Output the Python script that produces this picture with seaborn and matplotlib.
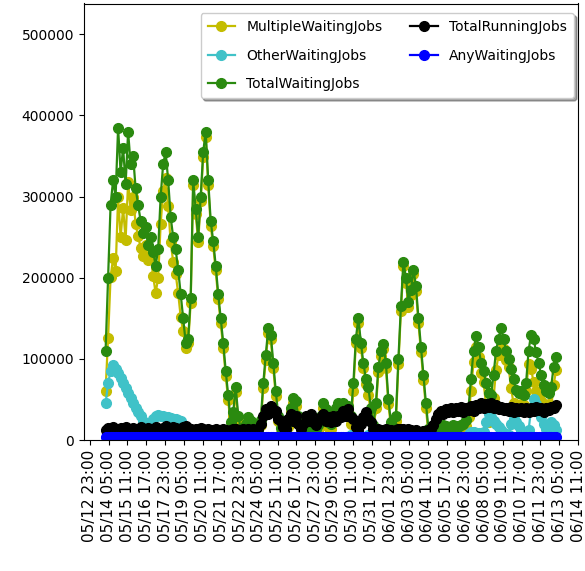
import numpy as np
import pandas as pd
import matplotlib
matplotlib.use("Agg")
import matplotlib.pyplot as plt
import seaborn as sns

# Job counts in thousands, sampled every 4 hours starting 05/14 00:00
sample_start = "2018-05-14 00:00"
sample_step = "4h"

multiple_waiting_k = [
    61, 126, 201, 224, 208, 299, 250, 286, 247, 318,
    284, 300, 266, 251, 237, 227, 240, 222, 228, 202,
    181, 200, 266, 307, 323, 288, 244, 220, 205, 181,
    152, 134, 113, 119, 169, 314, 279, 244, 294, 349,
    374, 314, 264, 239, 209, 174, 144, 114, 79, 49,
    16, 29, 59, 24, 8, 6, 14, 22, 18, 7,
    5, 6, 19, 64, 99, 132, 124, 89, 54, 24,
    9, 6, 8, 16, 34, 46, 42, 24, 9, 6,
    8, 12, 16, 10, 7, 12, 24, 39, 32, 16,
    14, 22, 34, 39, 36, 40, 34, 36, 20, 61,
    119, 144, 114, 89, 69, 55, 34, 12, 39, 84,
    104, 112, 89, 44, 16, 10, 24, 94, 159, 214,
    194, 164, 179, 204, 184, 144, 109, 74, 39, 8,
    6, 7, 6, 8, 10, 12, 11, 9, 10, 12,
    11, 10, 12, 14, 17, 28, 61, 96, 115, 102,
    83, 71, 44, 22, 23, 52, 86, 105, 122, 112,
    99, 90, 64, 45, 36, 37, 44, 43, 60, 94,
    88, 71, 60, 55, 48, 44, 42, 44, 39, 68,
    86,
]

other_waiting_k = [
    45, 70, 85, 92, 88, 82, 76, 70, 64, 58,
    52, 46, 40, 35, 29, 24, 18, 14, 18, 26,
    30, 31, 30, 29, 28, 28, 27, 26, 26, 25,
    24, 12, 3, 2, 2, 2, 2, 2, 2, 2,
    2, 2, 2, 2, 2, 2, 2, 2, 2, 2,
    2, 2, 2, 2, 2, 2, 2, 2, 2, 2,
    2, 2, 2, 2, 2, 2, 2, 2, 2, 2,
    2, 2, 2, 2, 2, 2, 2, 2, 2, 2,
    2, 2, 2, 2, 2, 2, 2, 2, 2, 2,
    2, 2, 2, 2, 2, 2, 2, 2, 6, 5,
    2, 2, 2, 2, 2, 6, 2, 2, 2, 2,
    2, 2, 2, 2, 2, 2, 2, 2, 2, 2,
    2, 2, 2, 2, 2, 2, 2, 2, 2, 2,
    2, 2, 2, 2, 2, 2, 2, 2, 2, 2,
    2, 2, 2, 2, 4, 8, 10, 10, 9, 9,
    8, 10, 22, 32, 28, 24, 20, 16, 12, 9,
    7, 6, 20, 26, 22, 17, 12, 8, 6, 12,
    38, 50, 44, 36, 28, 20, 14, 10, 22, 18,
    12,
]

total_waiting_k = [
    110, 200, 290, 320, 300, 385, 330, 360, 315, 380,
    340, 350, 310, 290, 270, 255, 262, 240, 250, 232,
    215, 235, 300, 340, 355, 320, 275, 250, 235, 210,
    180, 150, 120, 125, 175, 320, 285, 250, 300, 355,
    380, 320, 270, 245, 215, 180, 150, 120, 85, 55,
    22, 35, 65, 30, 14, 12, 20, 28, 24, 13,
    11, 12, 25, 70, 105, 138, 130, 95, 60, 30,
    15, 12, 14, 22, 40, 52, 48, 30, 15, 12,
    14, 18, 22, 16, 13, 18, 30, 45, 38, 22,
    20, 28, 40, 45, 42, 46, 40, 42, 30, 70,
    125, 150, 120, 95, 75, 65, 40, 18, 45, 90,
    110, 118, 95, 50, 22, 16, 30, 100, 165, 220,
    200, 170, 185, 210, 190, 150, 115, 80, 45, 14,
    12, 13, 12, 14, 16, 18, 17, 15, 16, 18,
    17, 16, 18, 20, 25, 40, 75, 110, 128, 115,
    95, 85, 70, 58, 55, 80, 110, 125, 138, 125,
    110, 100, 88, 75, 62, 58, 60, 55, 70, 110,
    130, 125, 108, 95, 80, 68, 60, 58, 65, 90,
    102,
]

total_running_k = [
    12, 15, 13, 16, 14, 12, 15, 13, 16, 14,
    13, 15, 12, 14, 16, 13, 12, 15, 14, 13,
    16, 14, 12, 15, 17, 14, 13, 16, 15, 12,
    14, 16, 17, 15, 13, 12, 14, 13, 15, 14,
    12, 13, 11, 12, 14, 12, 11, 13, 12, 11,
    12, 14, 13, 11, 12, 13, 12, 14, 12, 13,
    12, 13, 20, 30, 38, 32, 42, 34, 36, 26,
    24, 16, 14, 26, 32, 24, 30, 20, 14, 20,
    30, 24, 32, 22, 18, 24, 28, 32, 24, 28,
    22, 30, 24, 30, 28, 36, 30, 38, 28, 26,
    16, 12, 20, 28, 34, 26, 22, 14, 12, 13,
    12, 11, 13, 12, 12, 11, 12, 13, 14, 13,
    12, 13, 12, 11, 12, 10, 10, 11, 10, 12,
    14, 18, 26, 32, 36, 32, 38, 34, 40, 35,
    39, 36, 41, 35, 40, 37, 42, 36, 43, 39,
    45, 40, 44, 41, 45, 40, 43, 38, 41, 37,
    40, 36, 41, 35, 39, 36, 40, 34, 39, 35,
    40, 36, 41, 37, 40, 35, 39, 37, 41, 39,
    43,
]

any_waiting_k = [
    4, 4, 4, 4, 4, 4, 4, 4, 4, 4,
    4, 4, 4, 4, 4, 4, 4, 4, 4, 4,
    4, 4, 4, 4, 4, 4, 4, 4, 4, 4,
    4, 4, 4, 4, 4, 4, 4, 4, 4, 4,
    4, 4, 4, 4, 4, 4, 4, 4, 4, 4,
    4, 4, 4, 4, 4, 4, 4, 4, 4, 4,
    4, 4, 4, 4, 4, 4, 4, 4, 4, 4,
    4, 4, 4, 4, 4, 4, 4, 4, 4, 4,
    4, 4, 4, 4, 4, 4, 4, 4, 4, 4,
    4, 4, 4, 4, 4, 4, 4, 4, 4, 4,
    4, 4, 4, 4, 4, 4, 4, 4, 4, 4,
    4, 4, 4, 4, 4, 4, 4, 4, 4, 4,
    4, 4, 4, 4, 4, 4, 4, 4, 4, 4,
    4, 4, 4, 4, 4, 4, 4, 4, 4, 4,
    4, 4, 4, 4, 4, 4, 4, 4, 4, 4,
    4, 4, 4, 4, 4, 4, 4, 4, 4, 4,
    4, 4, 4, 4, 4, 4, 4, 4, 4, 4,
    4, 4, 4, 4, 4, 4, 4, 4, 4, 4,
    4,
]

tick_start = "2018-05-12 23:00"
tick_labels = [
    "05/12 23:00", "05/14 05:00", "05/15 11:00", "05/16 17:00", "05/17 23:00",
    "05/19 05:00", "05/20 11:00", "05/21 17:00", "05/22 23:00", "05/24 05:00",
    "05/25 11:00", "05/26 17:00", "05/27 23:00", "05/29 05:00", "05/30 11:00",
    "05/31 17:00", "06/01 23:00", "06/03 05:00", "06/04 11:00", "06/05 17:00",
    "06/06 23:00", "06/08 05:00", "06/09 11:00", "06/10 17:00", "06/11 23:00",
    "06/13 05:00", "06/14 11:00",
]
y_ticks = [0, 100000, 200000, 300000, 400000, 500000]

times = pd.date_range(sample_start, periods=len(total_waiting_k), freq=sample_step)
df = pd.DataFrame({
    "time": times,
    "MultipleWaitingJobs": np.array(multiple_waiting_k) * 1000,
    "OtherWaitingJobs": np.array(other_waiting_k) * 1000,
    "TotalWaitingJobs": np.array(total_waiting_k) * 1000,
    "TotalRunningJobs": np.array(total_running_k) * 1000,
    "AnyWaitingJobs": np.array(any_waiting_k) * 1000,
})

series_colors = [
    ("MultipleWaitingJobs", "#c4bd00"),
    ("OtherWaitingJobs", "#40c2c8"),
    ("TotalWaitingJobs", "#2a8a0f"),
    ("TotalRunningJobs", "#000000"),
    ("AnyWaitingJobs", "#0000ff"),
]

plt.rcParams["font.family"] = ["DejaVu Sans"]
fig = plt.figure(figsize=(5.85, 5.71), dpi=100)
ax = fig.add_axes([84 / 585, 131 / 571, 494 / 585, 436.5 / 571])

for name, color in series_colors:
    sns.lineplot(data=df, x="time", y=name, ax=ax, color=color, label=name,
                 marker="o", markersize=7, markeredgecolor=color,
                 markeredgewidth=1.0, linewidth=1.6, estimator=None)

tick_times = pd.date_range(tick_start, periods=len(tick_labels), freq="30h")
ax.set_xticks(tick_times)
ax.set_xticklabels(tick_labels, rotation=90, fontsize=11)
ax.set_xlim(pd.Timestamp("2018-05-12 13:30"), pd.Timestamp("2018-06-14 11:00"))

ax.set_ylim(0, 538000)
ax.set_yticks(y_ticks)
ax.set_yticklabels([str(v) for v in y_ticks], fontsize=10)
ax.set_xlabel("")
ax.set_ylabel("")

ax.legend(ncol=2, loc="upper right", bbox_to_anchor=(0.992, 0.978),
          borderaxespad=0, shadow=True, fancybox=True, fontsize=10,
          labelspacing=1.05, borderpad=0.5)

fig.savefig("out.png", dpi=100)
